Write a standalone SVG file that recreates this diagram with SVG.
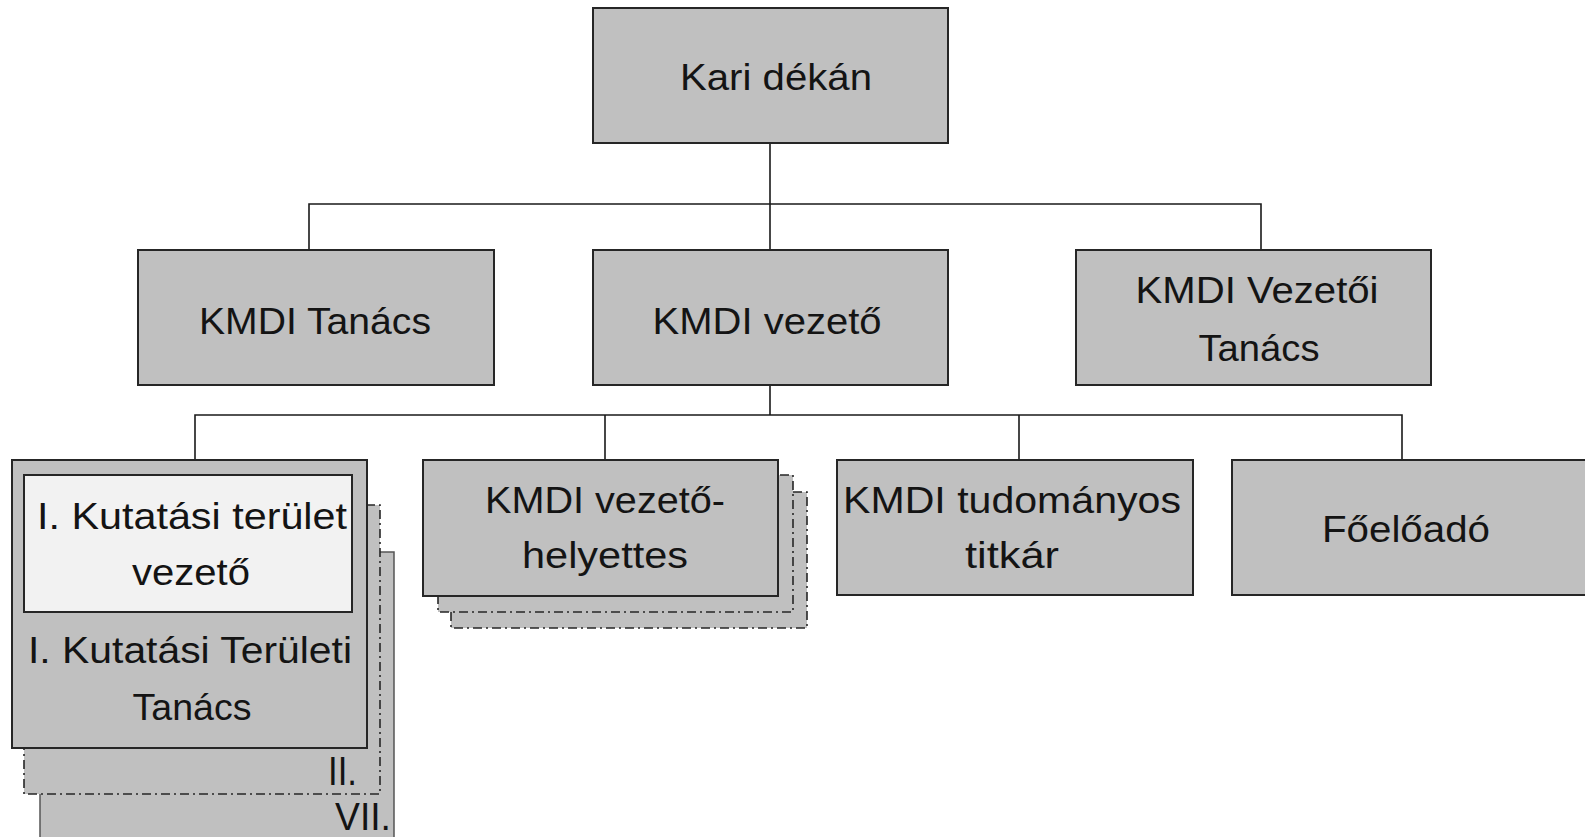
<svg xmlns="http://www.w3.org/2000/svg" width="1585" height="837" viewBox="0 0 1585 837">
<style>
.box{fill:#c0c0c0;stroke:#262626;stroke-width:2}
.inner{fill:#f2f2f2;stroke:#262626;stroke-width:2}
.dash{fill:#c0c0c0;stroke:#262626;stroke-width:1.6;stroke-dasharray:9 4 2 4}
.back{fill:#c0c0c0;stroke:#555;stroke-width:1.5}
.conn{fill:none;stroke:#1a1a1a;stroke-width:1.6}
text{font-family:"Liberation Sans",Arial,sans-serif;font-size:37px;fill:#141414;text-anchor:middle}
.end{text-anchor:end}
</style>
<rect width="1585" height="837" fill="#ffffff"/>
<g id="connectors">
<path class="conn" d="M770 143V250M309 250V204H1261V250"/>
<path class="conn" d="M770 385V415M195 460V415H1402V460M605 415V460M1019 415V460"/>
</g>
<g id="kari-dekan">
<rect class="box" x="593" y="8" width="355" height="135"/>
<text x="776" y="90" textLength="192" lengthAdjust="spacingAndGlyphs">Kari dékán</text>
</g>
<g id="kmdi-tanacs">
<rect class="box" x="138" y="250" width="356" height="135"/>
<text x="315" y="334" textLength="232" lengthAdjust="spacingAndGlyphs">KMDI Tanács</text>
</g>
<g id="kmdi-vezeto">
<rect class="box" x="593" y="250" width="355" height="135"/>
<text x="767" y="334" textLength="229" lengthAdjust="spacingAndGlyphs">KMDI vezető</text>
</g>
<g id="kmdi-vezetoi-tanacs">
<rect class="box" x="1076" y="250" width="355" height="135"/>
<text x="1257" y="303" textLength="243" lengthAdjust="spacingAndGlyphs">KMDI Vezetői</text>
<text x="1259" y="361" textLength="121" lengthAdjust="spacingAndGlyphs">Tanács</text>
</g>
<g id="kutatasi-terulet">
<rect class="back" x="40" y="552" width="354" height="300"/>
<rect class="dash" x="24" y="505" width="356" height="289"/>
<rect class="box" x="12" y="460" width="355" height="288"/>
<rect class="inner" x="24" y="475" width="328" height="137"/>
<text x="192" y="529" textLength="310" lengthAdjust="spacingAndGlyphs">I. Kutatási terület</text>
<text x="191" y="585" textLength="118" lengthAdjust="spacingAndGlyphs">vezető</text>
<text x="190" y="663" textLength="324" lengthAdjust="spacingAndGlyphs">I. Kutatási Területi</text>
<text x="192" y="720" textLength="119" lengthAdjust="spacingAndGlyphs">Tanács</text>
<text class="end" x="357" y="785" style="font-size:41px" textLength="29" lengthAdjust="spacingAndGlyphs">II.</text>
<text class="end" x="391" y="830" style="font-size:38px" textLength="56" lengthAdjust="spacingAndGlyphs">VII.</text>
</g>
<g id="kmdi-vezeto-helyettes">
<rect class="dash" x="451" y="492" width="356" height="136"/>
<rect class="dash" x="438" y="475" width="355" height="137"/>
<rect class="box" x="423" y="460" width="355" height="136"/>
<text x="605" y="513" textLength="240" lengthAdjust="spacingAndGlyphs">KMDI vezető-</text>
<text x="605" y="568" textLength="166" lengthAdjust="spacingAndGlyphs">helyettes</text>
</g>
<g id="kmdi-tudomanyos-titkar">
<rect class="box" x="837" y="460" width="356" height="135"/>
<text x="1012" y="513" textLength="338" lengthAdjust="spacingAndGlyphs">KMDI tudományos</text>
<text x="1012" y="568" textLength="94" lengthAdjust="spacingAndGlyphs">titkár</text>
</g>
<g id="foeloado">
<rect class="box" x="1232" y="460" width="370" height="135"/>
<text x="1406" y="542" textLength="168" lengthAdjust="spacingAndGlyphs">Főelőadó</text>
</g>
</svg>
